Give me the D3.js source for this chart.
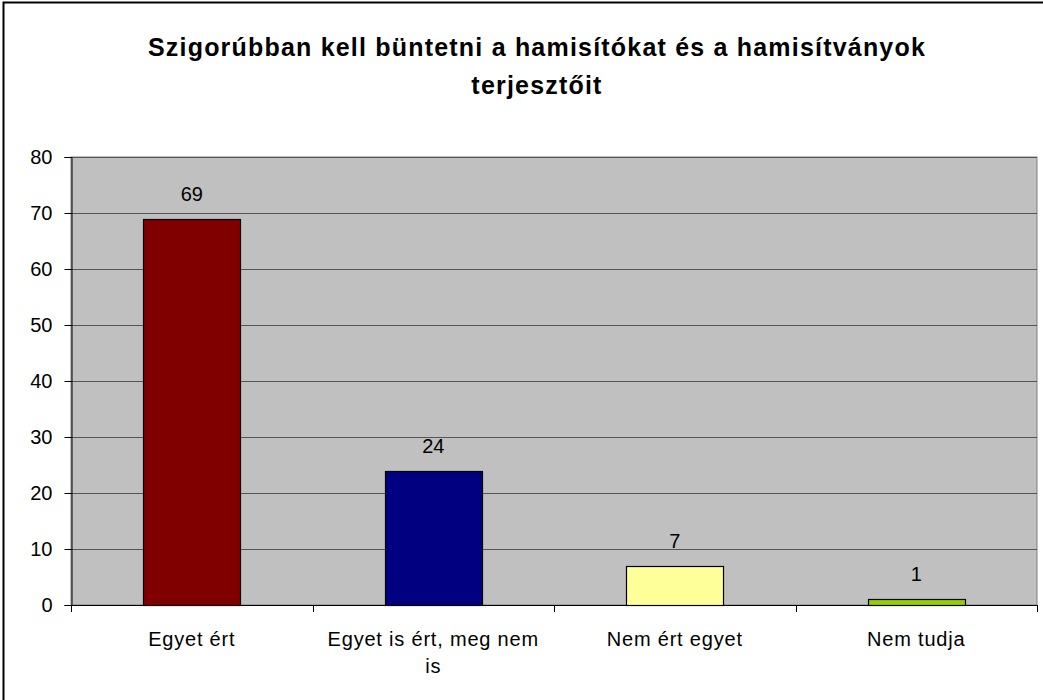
<!DOCTYPE html>
<html>
<head>
<meta charset="utf-8">
<script src="https://cdn.jsdelivr.net/npm/d3@7"></script>
<style>
  body { margin: 0; background: #fff; }
  text { font-family: Arial, "Liberation Sans", sans-serif; }
</style>
</head>
<body>
<div id="chart"></div>
<script>
// chart size
const width = 1043;
const height = 700;

// data
const categories = ["Egyet ért", "Egyet is ért, meg nem is", "Nem ért egyet", "Nem tudja"];
const values = [69, 24, 7, 1];
const colors = ["#800000", "#000080", "#ffff99", "#99cc00"];
const yTicks = [0, 10, 20, 30, 40, 50, 60, 70, 80];
const titleLines = ["Szigorúbban kell büntetni a hamisítókat és a hamisítványok", "terjesztőit"];

// plot area
const plot = { left: 71, right: 1037, top: 157, bottom: 605 };

const svg = d3.select("#chart")
    .append("svg")
    .attr("width", width)
    .attr("height", height);

// outer chart border
svg.append("rect")
    .attr("x", 3.5)
    .attr("y", 2.5)
    .attr("width", 1060)
    .attr("height", 720)
    .attr("fill", "#fff")
    .attr("stroke", "#000")
    .attr("stroke-width", 2);

// title
svg.append("g")
    .selectAll("text")
    .data(titleLines)
    .enter()
    .append("text")
    .attr("x", 537)
    .attr("y", (d, i) => 56 + i * 38)
    .attr("text-anchor", "middle")
    .style("font-size", "25px")
    .style("font-weight", "bold")
    .style("letter-spacing", "1.2px")
    .text(d => d);

// scales
const x = d3.scaleBand()
    .domain(categories)
    .range([plot.left, plot.right])
    .paddingInner(0.6)
    .paddingOuter(0.3);

const xCat = d3.scaleBand()
    .domain(categories)
    .range([plot.left, plot.right])
    .padding(0);

const y = d3.scaleLinear()
    .domain([0, 80])
    .range([plot.bottom, plot.top]);

// plot background
svg.append("rect")
    .attr("x", plot.left)
    .attr("y", plot.top)
    .attr("width", plot.right - plot.left)
    .attr("height", plot.bottom - plot.top)
    .attr("fill", "#c0c0c0")
    .attr("stroke", "#808080")
    .attr("stroke-width", 1);

// gridlines
svg.append("g")
    .selectAll("line")
    .data(yTicks.filter(d => d > 0))
    .enter()
    .append("line")
    .attr("x1", plot.left)
    .attr("x2", plot.right)
    .attr("y1", d => Math.round(y(d)) + 0.5)
    .attr("y2", d => Math.round(y(d)) + 0.5)
    .attr("stroke", "#555")
    .attr("stroke-width", 1);

// bars
svg.append("g")
    .selectAll("rect")
    .data(values)
    .enter()
    .append("rect")
    .attr("x", (d, i) => Math.round(x(categories[i])) + 0.5)
    .attr("y", d => Math.round(y(d)) + 0.5)
    .attr("width", Math.round(x.bandwidth()))
    .attr("height", d => Math.round(y(0)) - Math.round(y(d)))
    .attr("fill", (d, i) => colors[i])
    .attr("stroke", "#000")
    .attr("stroke-width", 1.2);

// value labels
svg.append("g")
    .selectAll("text")
    .data(values)
    .enter()
    .append("text")
    .attr("x", (d, i) => x(categories[i]) + x.bandwidth() / 2)
    .attr("y", d => y(d) - 18)
    .attr("text-anchor", "middle")
    .style("font-size", "20px")
    .text(d => d);

// y axis
const yAxis = d3.axisLeft(y)
    .tickValues(yTicks)
    .tickSize(7)
    .tickPadding(12);

svg.append("g")
    .attr("transform", `translate(${plot.left + 0.5},0)`)
    .call(yAxis)
    .call(g => g.select(".domain").attr("stroke", "#000"))
    .call(g => g.selectAll(".tick line").attr("stroke", "#000"))
    .call(g => g.selectAll(".tick text")
        .style("font-size", "20px")
        .style("font-family", "Arial, 'Liberation Sans', sans-serif")
        .attr("fill", "#000"));

// x axis line with category separator ticks
const xg = svg.append("g");
xg.append("line")
    .attr("x1", plot.left)
    .attr("x2", plot.right)
    .attr("y1", plot.bottom + 0.5)
    .attr("y2", plot.bottom + 0.5)
    .attr("stroke", "#000");

const sepPositions = categories.map(c => xCat(c)).concat([plot.right]);
xg.selectAll(".sep")
    .data(sepPositions)
    .enter()
    .append("line")
    .attr("class", "sep")
    .attr("x1", d => Math.round(d) + 0.5)
    .attr("x2", d => Math.round(d) + 0.5)
    .attr("y1", plot.bottom)
    .attr("y2", plot.bottom + 7)
    .attr("stroke", "#000");

// category labels (wrapped like the original)
const labelLines = [["Egyet ért"], ["Egyet is ért, meg nem", "is"], ["Nem ért egyet"], ["Nem tudja"]];
xg.selectAll(".cat")
    .data(categories)
    .enter()
    .append("text")
    .attr("class", "cat")
    .attr("text-anchor", "middle")
    .style("font-size", "20px")
    .style("letter-spacing", "0.8px")
    .each(function(d, i) {
        const cx = xCat(d) + xCat.bandwidth() / 2;
        d3.select(this).selectAll("tspan")
            .data(labelLines[i])
            .enter()
            .append("tspan")
            .attr("x", cx)
            .attr("y", (t, j) => 646 + j * 27)
            .text(t => t);
    });
</script>
</body>
</html>
